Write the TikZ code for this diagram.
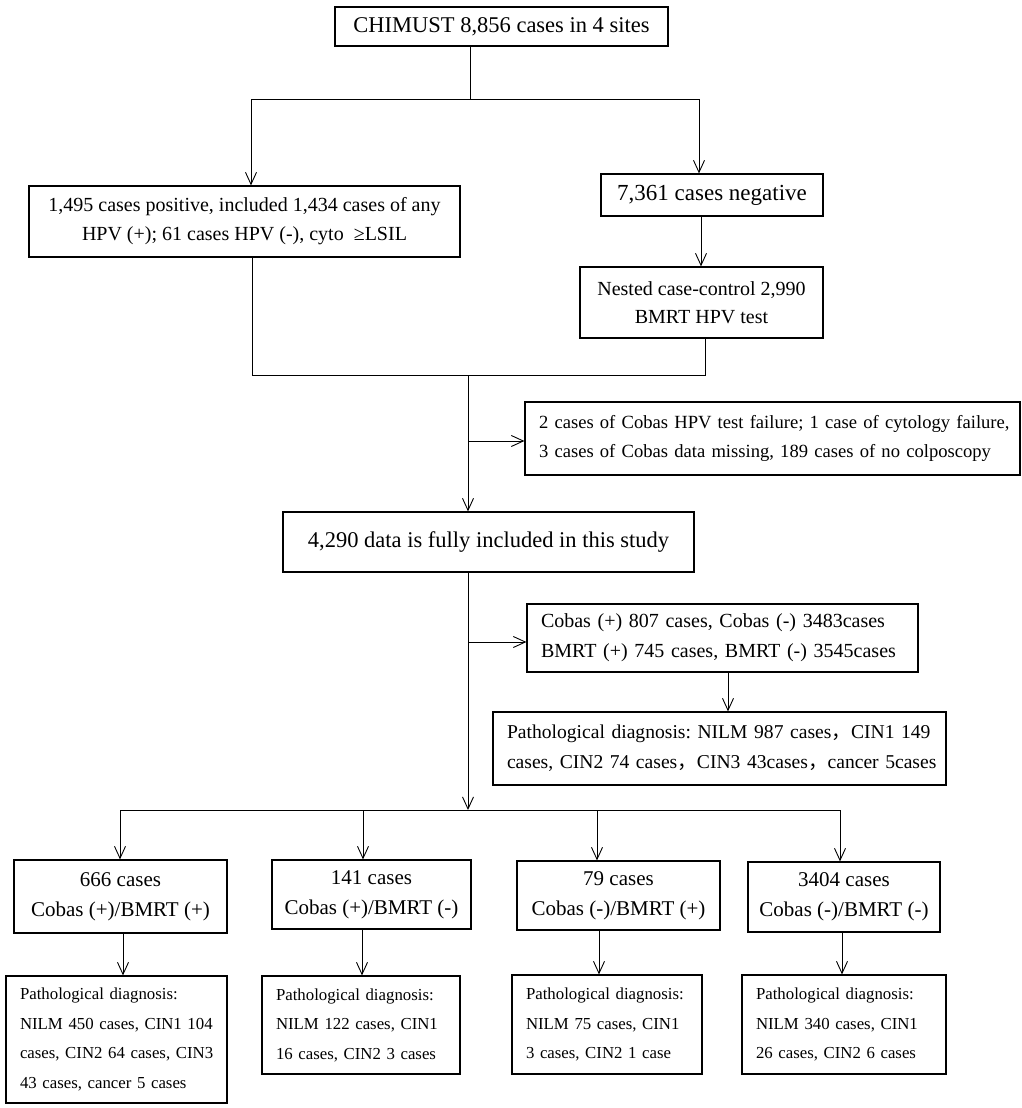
\documentclass[tikz,border=0pt]{standalone}
\usepackage{fontspec}
\setmainfont{Liberation Serif}
\newfontfamily\cjk{Noto Sans CJK SC}
\usetikzlibrary{arrows.meta}
\tikzset{
  box/.style={draw, line width=1.2pt, inner sep=0pt, align=center},
  lbox/.style={draw, line width=1.2pt, inner xsep=14pt, inner ysep=0pt, align=left},
  ln/.style={line width=0.9pt},
  arr/.style={line width=0.9pt, -{Straight Barb[length=12pt,width=11pt]}},
}
\newcommand{\fs}[2]{\fontsize{#1}{#2}\selectfont\frenchspacing}
\begin{document}
\begin{tikzpicture}[x=1pt,y=-1pt]
\useasboundingbox (0,0) rectangle (1021,1108);
% boxes
\node[box, minimum width=333pt, minimum height=39pt, font=\fs{22.5}{27}] (top) at (501.5,26.5) {CHIMUST 8,856 cases in 4 sites};
\node[box, minimum width=431pt, minimum height=71pt, font=\fs{20}{29}] (left) at (244.5,221.5) {1,495 cases positive, included 1,434 cases of any\\HPV (+); 61 cases HPV (-), cyto\ \ ≥LSIL};
\node[box, minimum width=222pt, minimum height=42pt, font=\fs{23}{27}] (neg) at (712,195) {7,361 cases negative};
\node[box, minimum width=243pt, minimum height=71pt, font=\fs{20}{28}] (nest) at (701.5,302.5) {Nested case-control 2,990\\BMRT HPV test};
\node[lbox, text width=467pt, minimum height=73pt, font=\fs{18.6}{29}] (fail) at (772.5,438.5) {\mbox{2 cases of Cobas HPV test failure; 1 case of cytology failure,}\\\mbox{3 cases of Cobas data missing, 189 cases of no colposcopy}};
\node[box, minimum width=411pt, minimum height=60pt, font=\fs{22.5}{27}] (mid) at (488.5,542) {4,290 data is fully included in this study};
\node[lbox, text width=363pt, minimum height=68pt, font=\fs{20}{30}] (cobas) at (722.5,638) {\mbox{Cobas (+) 807 cases, Cobas (-) 3483cases}\\\mbox{BMRT (+) 745 cases, BMRT (-) 3545cases}};
\node[lbox, text width=425pt, minimum height=73pt, font=\fs{19.6}{30}] (path) at (719.5,748.5) {\mbox{Pathological diagnosis: NILM 987 cases{\cjk ，}CIN1 149}\\\mbox{cases, CIN2 74 cases{\cjk ，}CIN3 43cases{\cjk ，}cancer 5cases}};
% group boxes
\node[box, minimum width=213pt, minimum height=73pt, font=\fs{21}{30}] (b1) at (120.5,896.5) {666 cases\\Cobas (+)/BMRT (+)};
\node[box, minimum width=199pt, minimum height=69pt, font=\fs{21}{30}] (b2) at (371.5,894.5) {141 cases\\Cobas (+)/BMRT (-)};
\node[box, minimum width=203pt, minimum height=69pt, font=\fs{21}{30}] (b3) at (618.5,895.5) {79 cases\\Cobas (-)/BMRT (+)};
\node[box, minimum width=192pt, minimum height=70pt, font=\fs{21}{30}] (b4) at (844,897) {3404 cases\\Cobas (-)/BMRT (-)};
\node[lbox, text width=193pt, minimum height=127pt, font=\fs{16.8}{29.5}] (p1) at (116.5,1039.5) {\mbox{Pathological diagnosis:}\\\mbox{NILM 450 cases, CIN1 104}\\\mbox{cases, CIN2 64 cases, CIN3}\\\mbox{43 cases, cancer 5 cases}};
\node[lbox, text width=170pt, minimum height=98pt, font=\fs{16.8}{29.5}] (p2) at (361,1025) {\mbox{Pathological diagnosis:}\\\mbox{NILM 122 cases, CIN1}\\\mbox{16 cases, CIN2 3 cases}};
\node[lbox, text width=162pt, minimum height=99pt, font=\fs{16.8}{29.5}] (p3) at (607,1024.5) {\mbox{Pathological diagnosis:}\\\mbox{NILM 75 cases, CIN1}\\\mbox{3 cases, CIN2 1 case}};
\node[lbox, text width=176pt, minimum height=99pt, font=\fs{16.8}{29.5}] (p4) at (844,1024.5) {\mbox{Pathological diagnosis:}\\\mbox{NILM 340 cases, CIN1}\\\mbox{26 cases, CIN2 6 cases}};
% junction coordinates
\coordinate (j1) at (470,99);
\coordinate (j1L) at (251,99);
\coordinate (j1R) at (699,99);
\coordinate (nx) at (701,0);
\coordinate (j2L) at (252,375);
\coordinate (j2R) at (705,375);
\coordinate (j2M) at (468,375);
\coordinate (br1) at (468,441);
\coordinate (br2) at (468,642);
\coordinate (j3) at (468,810);
\coordinate (j3L) at (120,810);
\coordinate (j3R) at (840,810);
\coordinate (c2) at (363,810);
\coordinate (c3) at (597,810);
\coordinate (px) at (728,0);
% connectors
\draw[ln] (top.south -| j1) -- (j1);
\draw[ln] (j1L) -- (j1R);
\draw[arr] (j1L) -- (left.north -| j1L);
\draw[arr] (j1R) -- (neg.north -| j1R);
\draw[arr] (neg.south -| nx) -- (nest.north -| nx);
\draw[ln] (left.south -| j2L) -- (j2L) -- (j2R) -- (nest.south -| j2R);
\draw[arr] (j2M) -- (mid.north -| j2M);
\draw[arr] (br1) -- (fail.west |- br1);
\draw[arr] (mid.south -| j3) -- (j3);
\draw[arr] (br2) -- (cobas.west |- br2);
\draw[arr] (cobas.south -| px) -- (path.north -| px);
\draw[ln] (j3L) -- (j3R);
\draw[arr] (j3L) -- (b1.north -| j3L);
\draw[arr] (c2) -- (b2.north -| c2);
\draw[arr] (c3) -- (b3.north -| c3);
\draw[arr] (j3R) -- (b4.north -| j3R);
\draw[arr] ([xshift=2.5pt]b1.south) -- ([xshift=2.5pt]b1.south |- p1.north);
\draw[arr] ([xshift=-9.5pt]b2.south) -- ([xshift=-9.5pt]b2.south |- p2.north);
\draw[arr] ([xshift=-19.5pt]b3.south) -- ([xshift=-19.5pt]b3.south |- p3.north);
\draw[arr] ([xshift=-2pt]b4.south) -- ([xshift=-2pt]b4.south |- p4.north);
\end{tikzpicture}
\end{document}
